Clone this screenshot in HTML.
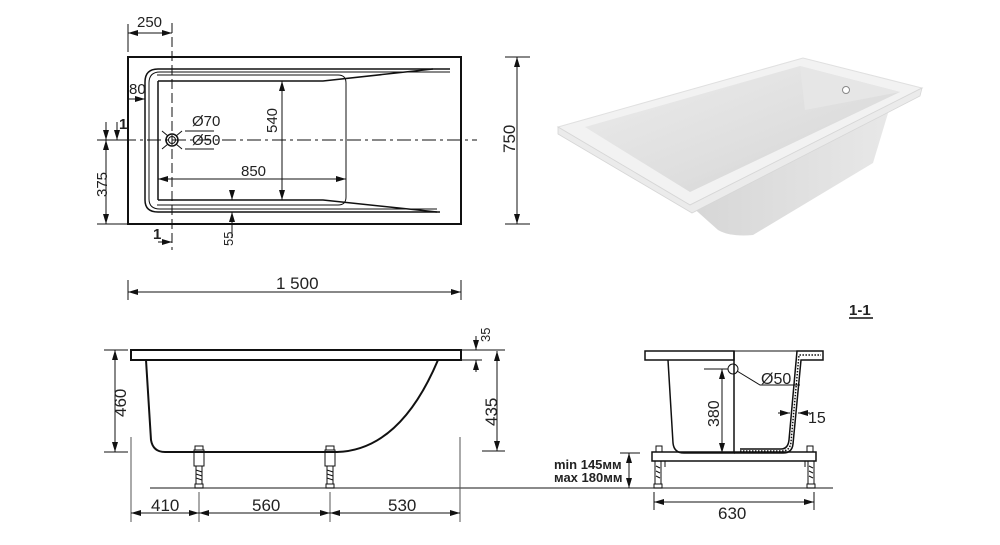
<!DOCTYPE html>
<html><head><meta charset="utf-8"><style>
html,body{margin:0;padding:0;background:#fff;width:1000px;height:545px;overflow:hidden}
svg{display:block}
text{font-family:"Liberation Sans",sans-serif;fill:#222}
</style></head><body>
<svg width="1000" height="545" viewBox="0 0 1000 545" xmlns="http://www.w3.org/2000/svg">
<defs>
<marker id="a" viewBox="0 0 10 6" refX="10" refY="3" markerWidth="10" markerHeight="6" orient="auto-start-reverse" markerUnits="userSpaceOnUse"><path d="M0,0 L10,3 L0,6z" fill="#111"/></marker>
<linearGradient id="g1" x1="0" y1="0" x2="1" y2="1"><stop offset="0" stop-color="#ececec"/><stop offset="0.6" stop-color="#dedede"/><stop offset="1" stop-color="#cfcfcf"/></linearGradient>
<linearGradient id="g2" x1="0" y1="0" x2="1" y2="0"><stop offset="0" stop-color="#d6d6d6"/><stop offset="1" stop-color="#e8e8e8"/></linearGradient>
</defs>
<g stroke="#111" fill="none">
<!-- TOP VIEW -->
<rect x="128" y="57" width="333" height="167" stroke-width="2"/>
<path d="M450,69 H158 Q145,69 145,82 V200 Q145,212 158,212 H440" stroke-width="1.5"/>
<path d="M450,72 H160 Q149,72 149,83 V199 Q149,209 160,209 H437" stroke-width="1"/>
<path d="M157,75 H338 Q346,75 346,83 V197 Q346,205 338,205 H157" stroke-width="1"/>
<path d="M158,81 H323 L433,69 M158,200 H323 L437,212 M158,81 V200" stroke-width="1.5"/>
<path d="M97,140 H477" stroke-width="1" stroke-dasharray="14,4,3,4"/>
<path d="M172,23 V250" stroke-width="1" stroke-dasharray="10,4"/>
<circle cx="172" cy="140" r="6" stroke-width="1.5"/><circle cx="172" cy="140" r="3.5" stroke-width="1"/>
<path d="M162,131 L168,136 M162,149 L168,144 M182,131 L176,136 M182,149 L176,144 M185,131 H214 M185,149 H214" stroke-width="1"/>
<path d="M128,24 V52 M172,23 V30" stroke-width="1"/>
<path d="M128,33 H172" stroke-width="1" marker-start="url(#a)" marker-end="url(#a)"/>
<path d="M128,99 H145" stroke-width="1" marker-end="url(#a)"/>
<path d="M282,81 V200" stroke-width="1" marker-start="url(#a)" marker-end="url(#a)"/>
<path d="M158,179 H346" stroke-width="1" marker-start="url(#a)" marker-end="url(#a)"/>
<path d="M232,200 V194 M232,212 V238" stroke-width="1"/>
<path d="M232,190 V200" stroke-width="1" marker-end="url(#a)"/>
<path d="M232,230 V212" stroke-width="1" marker-end="url(#a)"/>
<path d="M97,224 H128 M97,140 H124" stroke-width="1"/>
<path d="M106,140 V224" stroke-width="1" marker-start="url(#a)" marker-end="url(#a)"/>
<path d="M106,122 V140" stroke-width="1" marker-end="url(#a)"/>
<path d="M117,122 V140" stroke-width="1" marker-end="url(#a)"/>
<path d="M158,242 H172" stroke-width="1" marker-end="url(#a)"/>
<path d="M505,57 H530 M505,224 H530" stroke-width="1"/>
<path d="M517,57 V224" stroke-width="1" marker-start="url(#a)" marker-end="url(#a)"/>
<path d="M128,280 V300 M461,280 V300" stroke-width="1"/>
<path d="M128,292 H461" stroke-width="1" marker-start="url(#a)" marker-end="url(#a)"/>
<!-- SIDE VIEW -->
<rect x="131" y="350" width="330" height="10" stroke-width="2"/>
<path d="M146,360 L151,440 Q153,452 165,452 H337 Q400,450 438,360" stroke-width="2"/>
<path d="M150,488 H833" stroke="#444" stroke-width="1.2"/>
<g stroke-width="1">
<rect x="195" y="446" width="8" height="4"/><rect x="194" y="450" width="10" height="16"/><rect x="196" y="466" width="6" height="18"/><rect x="195" y="484" width="8" height="4"/>
<path d="M196,470 L202,472 M196,474 L202,476 M196,478 L202,480"/>
<rect x="326" y="446" width="8" height="4"/><rect x="325" y="450" width="10" height="16"/><rect x="327" y="466" width="6" height="18"/><rect x="326" y="484" width="8" height="4"/>
<path d="M327,470 L333,472 M327,474 L333,476 M327,478 L333,480"/>
</g>
<path d="M104,350 H128 M104,452 H128" stroke-width="1"/>
<path d="M115,350 V452" stroke-width="1" marker-start="url(#a)" marker-end="url(#a)"/>
<path d="M461,350 H505 M461,360 H482 M482,451 H505" stroke-width="1"/>
<path d="M497,351 V451" stroke-width="1" marker-start="url(#a)" marker-end="url(#a)"/>
<path d="M476,336 V350" stroke-width="1" marker-end="url(#a)"/>
<path d="M476,372 V360" stroke-width="1" marker-end="url(#a)"/>
<path d="M131,437 V522 M199,492 V522 M330,492 V522 M460,437 V522" stroke="#555" stroke-width="1"/>
<path d="M131,513 H199" stroke-width="1" marker-start="url(#a)" marker-end="url(#a)"/>
<path d="M199,513 H330" stroke-width="1" marker-start="url(#a)" marker-end="url(#a)"/>
<path d="M330,513 H460" stroke-width="1" marker-start="url(#a)" marker-end="url(#a)"/>
<!-- SECTION -->
<rect x="645" y="351" width="89" height="9" stroke-width="1.5"/>
<path d="M734,351 H797" stroke-width="1"/>
<path d="M668,360 L673,443 Q674,453 684,453 H734 V351" stroke-width="1.5"/>
<path d="M734,453 H783 Q792,453 793,444 L801,360 H823 V351 H797 L789,440 Q788,449 781,449 H740" stroke-width="1.5"/>
<path d="M740,451 H782 Q790,451 791,442 L799,355 H821" stroke-width="1.5" stroke-dasharray="1.5,1.5"/>
<circle cx="733" cy="369" r="5" stroke-width="1"/>
<path d="M737,371 L760,385 H800" stroke-width="1"/>
<path d="M704,369 H728" stroke-width="1"/>
<path d="M722,369 V453" stroke-width="1" marker-start="url(#a)" marker-end="url(#a)"/>
<path d="M778,413 H790" stroke-width="1" marker-end="url(#a)"/>
<path d="M810,413 H798" stroke-width="1" marker-end="url(#a)"/>
<rect x="652" y="452" width="164" height="9" stroke-width="1.5"/>
<g stroke-width="1">
<rect x="656" y="446" width="6" height="6"/><rect x="655" y="461" width="6" height="23"/><rect x="654" y="484" width="8" height="4"/>
<rect x="807" y="446" width="6" height="6"/><rect x="808" y="461" width="6" height="23"/><rect x="807" y="484" width="8" height="4"/>
<path d="M656,466 L660,468 M656,471 L660,473 M656,476 L660,478 M809,466 L813,468 M809,471 L813,473 M809,476 L813,478"/>
<path d="M665,461 V467 M805,461 V467"/>
</g>
<path d="M620,453 H640" stroke-width="1"/>
<path d="M629,453 V488" stroke-width="1" marker-start="url(#a)" marker-end="url(#a)"/>
<path d="M654,492 V510 M814,492 V510" stroke-width="1"/>
<path d="M654,502 H814" stroke-width="1" marker-start="url(#a)" marker-end="url(#a)"/>
<path d="M849,318 H873" stroke-width="1.5"/>
</g>
<!-- 3D -->
<g>
<path d="M690,205 L718,230 Q730,237 753,235 L873,163 L892,100 z" fill="url(#g2)"/>
<path d="M558,127 L803,58 L922,88 L690,205z" fill="#f2f2f2" stroke="#e0e0e0" stroke-width="1"/>
<path d="M585,127 L800,66 L900,92 L690,192z" fill="url(#g1)"/>
<path d="M800,66 L805,110 L900,92z" fill="#e6e6e6"/>
<path d="M558,127 L690,205 L922,88 L920,96 L692,213 L558,134z" fill="#ebebeb" stroke="#d6d6d6" stroke-width="0.8"/>
<circle cx="846" cy="90" r="3.5" fill="#fff" stroke="#888"/>
</g>
<!-- TEXT -->
<g font-size="15">
<text x="137" y="27">250</text>
<text x="129" y="94">80</text>
<text x="192" y="126">Ø70</text>
<text x="192" y="145">Ø50</text>
<text x="241" y="176">850</text>
<text transform="translate(277,133) rotate(-90)">540</text>
<text x="119" y="129" font-weight="bold">1</text>
<text x="153" y="239" font-weight="bold">1</text>
<text transform="translate(233,246) rotate(-90)" font-size="13">55</text>
<text transform="translate(107,197) rotate(-90)">375</text>
<text transform="translate(515,153) rotate(-90)" font-size="17">750</text>
<text x="276" y="289" font-size="17">1 500</text>
<text transform="translate(126,417) rotate(-90)" font-size="17">460</text>
<text transform="translate(497,426) rotate(-90)" font-size="17">435</text>
<text transform="translate(490,342) rotate(-90)" font-size="13">35</text>
<text x="151" y="511" font-size="17">410</text>
<text x="252" y="511" font-size="17">560</text>
<text x="388" y="511" font-size="17">530</text>
<text x="761" y="384" font-size="16">Ø50</text>
<text transform="translate(719,427) rotate(-90)" font-size="16">380</text>
<text x="808" y="423" font-size="16">15</text>
<text x="554" y="469" font-size="13" font-weight="bold">min 145мм</text>
<text x="554" y="482" font-size="13" font-weight="bold">мах 180мм</text>
<text x="718" y="519" font-size="17">630</text>
<text x="849" y="315" font-size="15" font-weight="bold">1-1</text>
</g>
</svg>
</body></html>
